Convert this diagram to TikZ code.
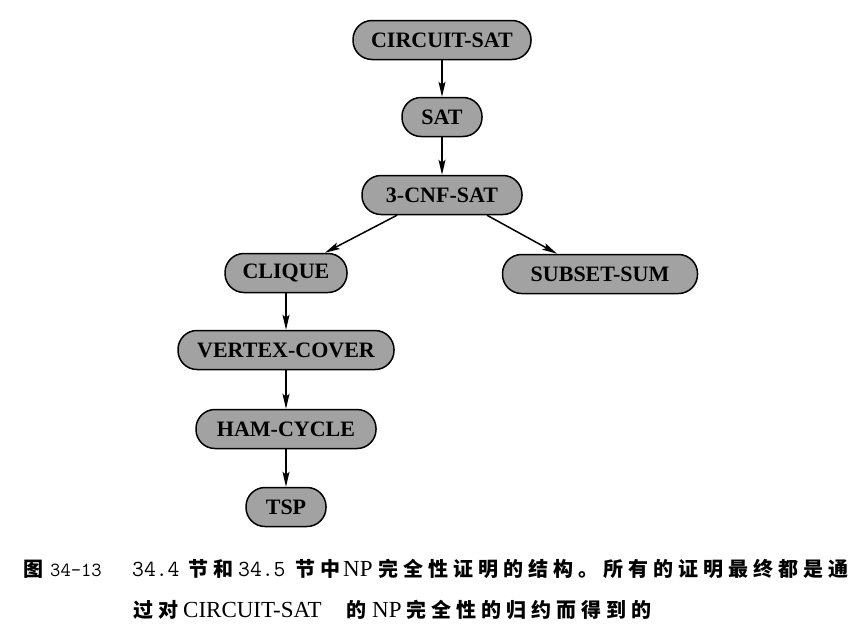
\documentclass[tikz,border=0pt]{standalone}
\usepackage{fontspec}
\setmainfont{Liberation Serif}
\newfontfamily\cjk[LetterSpace=25]{Noto Sans CJK SC}
\usetikzlibrary{arrows.meta}
\definecolor{nodefill}{RGB}{162,162,162}
\tikzset{
  prob/.style={draw=black, line width=1.5pt, fill=nodefill, rounded corners=19pt,
    minimum height=39pt, inner sep=0pt,
    font=\fontsize{22}{22}\selectfont\bfseries},
  arr/.style={-{Stealth[length=15pt,width=7pt,inset=3pt]}, line width=1.5pt},
  captext/.style={anchor=base west, inner sep=0pt, font=\fontsize{23}{23}\selectfont},
  cjtext/.style={captext, font=\fontsize{20}{20}\selectfont\cjk\bfseries},
  digits/.style={captext, font=\fontsize{23}{23}\selectfont\ttfamily},
  fignum/.style={captext, font=\fontsize{20}{20}\selectfont\ttfamily}
}
\begin{document}
\begin{tikzpicture}[x=1pt,y=-1pt]
\useasboundingbox (0,0) rectangle (866,629);
\node[prob, minimum width=178pt] (cs) at (442,40) {CIRCUIT-SAT};
\node[prob, minimum width=80pt] (sat) at (442,117) {SAT};
\node[prob, minimum width=160pt] (cnf) at (442,195) {3-CNF-SAT};
\node[prob, minimum width=122pt] (clique) at (286,273) {CLIQUE};
\node[prob, minimum width=195pt] (subset) at (600,274) {SUBSET-SUM};
\node[prob, minimum width=216pt] (vc) at (286,350) {VERTEX-COVER};
\node[prob, minimum width=180pt] (ham) at (286,429) {HAM-CYCLE};
\node[prob, minimum width=80pt] (tsp) at (286,507) {TSP};
\draw[arr] (cs) -- (sat);
\draw[arr] (sat) -- (cnf);
\draw[arr] ([xshift=-45pt]cnf.south) -- ([xshift=39pt]clique.north);
\draw[arr] ([xshift=45pt]cnf.south) -- ([xshift=-43pt]subset.north);
\draw[arr] (clique) -- (vc);
\draw[arr] (vc) -- (ham);
\draw[arr] (ham) -- (tsp);
% caption, line 1
\node[cjtext] (c1) at (23,576) {图};
\node[fignum] (c2) at (50,576) {34-13};
\node[digits] (c3) at (132,576) {34.4};
\node[cjtext] (c4) at (188,576) {节和};
\node[digits] (c5) at (238,576) {34.5};
\node[cjtext] (c6) at (295,576) {节中};
\node[captext] (c7) at (343,576) {NP};
\node[cjtext] (c8) at (378,576) {完全性证明的结构。所有的证明最终都是通};
% caption, line 2
\node[cjtext] (d1) at (133,617) {过对};
\node[captext] (d2) at (183,617) {CIRCUIT-SAT};
\node[cjtext] (d3) at (346,617) {的};
\node[captext] (d4) at (372,617) {NP};
\node[cjtext] (d5) at (406,617) {完全性的归约而得到的};
\end{tikzpicture}
\end{document}
